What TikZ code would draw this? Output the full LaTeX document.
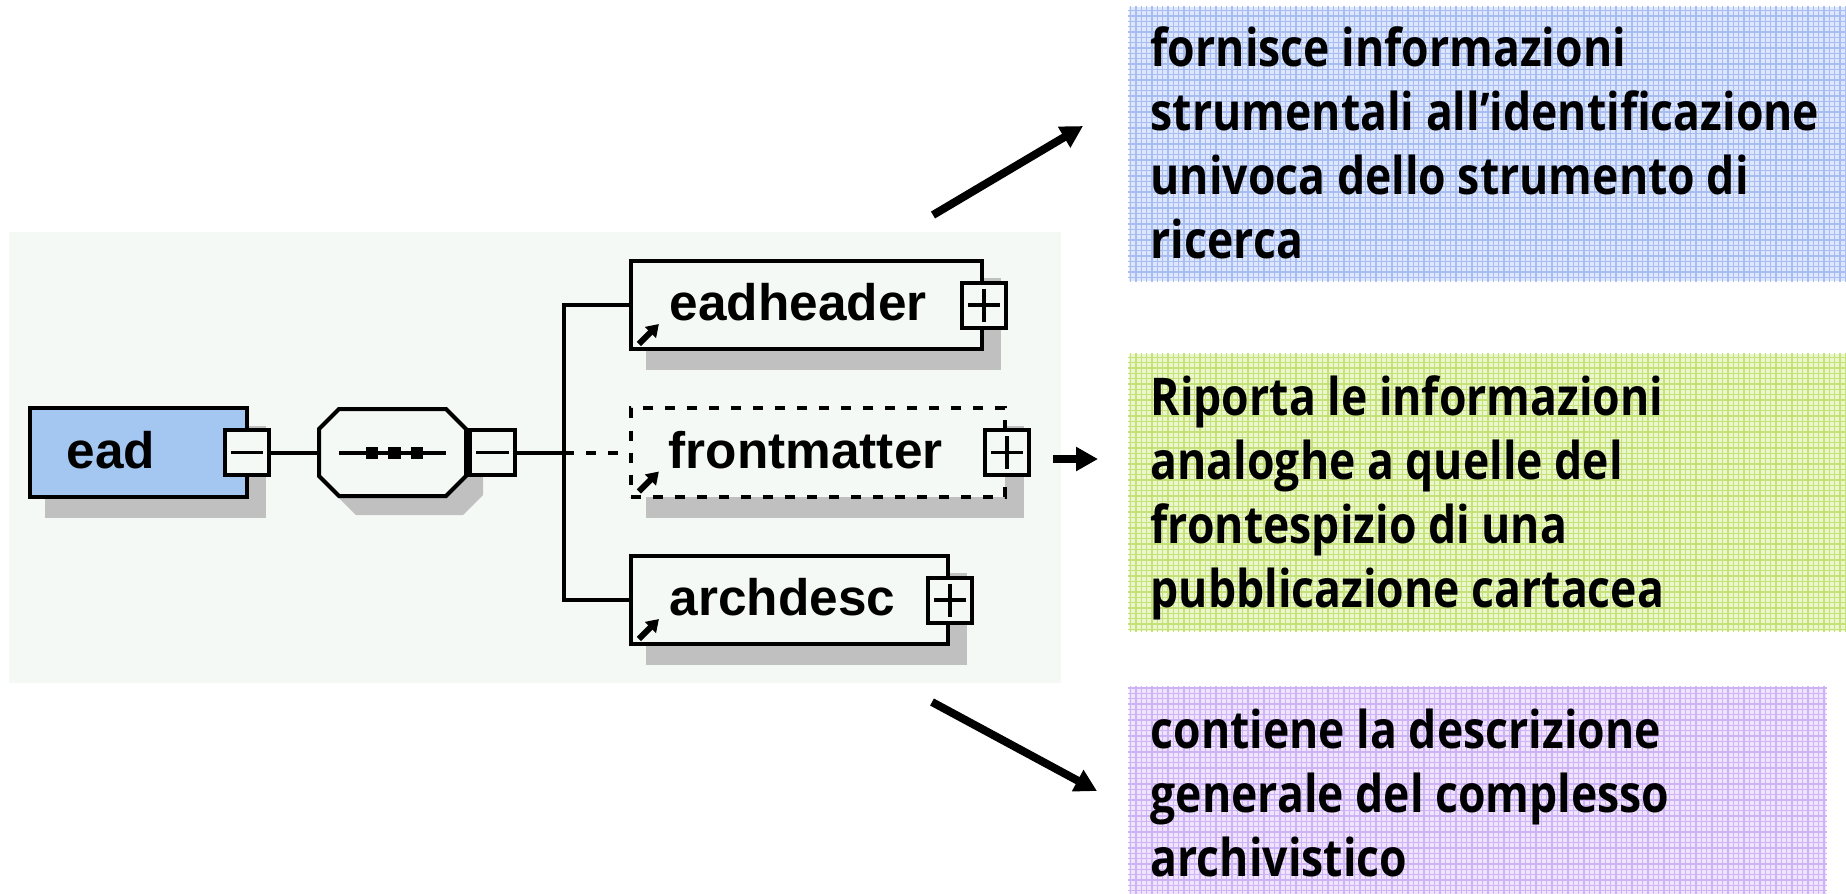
\documentclass[tikz,border=0pt]{standalone}
\usepackage{fontspec}
\setmainfont{Liberation Sans}
\newfontfamily\notefont[FakeStretch=0.856]{Open Sans}
\usetikzlibrary{arrows.meta,shadows}

\definecolor{panel}{RGB}{245,249,245}
\definecolor{shadowgrey}{RGB}{192,192,192}
\definecolor{eadfill}{RGB}{163,199,240}
\definecolor{blueback}{RGB}{222,230,251}
\definecolor{blueline}{RGB}{168,190,242}
\definecolor{greenback}{RGB}{236,246,204}
\definecolor{greenline}{RGB}{196,226,120}
\definecolor{purpleback}{RGB}{240,228,252}
\definecolor{purpleline}{RGB}{206,178,246}

\tikzset{
  schline/.style={line width=0.04cm},
  boxshadow/.style={drop shadow={shadow xshift=0.17cm, shadow yshift=-0.19cm,
      fill=shadowgrey, draw=shadowgrey, solid, line width=0.04cm, opacity=1}},
  elem/.style={draw, schline, fill=panel, minimum height=0.88cm, inner sep=0, boxshadow},
  toggle/.style={draw, schline, solid, fill=panel, minimum width=0.44cm, minimum height=0.45cm, inner sep=0},
  minus/.style={toggle, path picture={
      \draw[line width=0.035cm] ([xshift=0.06cm]path picture bounding box.west)
        -- ([xshift=-0.06cm]path picture bounding box.east);}},
  plus/.style={toggle, path picture={
      \draw[line width=0.035cm] ([xshift=0.06cm]path picture bounding box.west)
        -- ([xshift=-0.06cm]path picture bounding box.east)
        ([yshift=-0.06cm]path picture bounding box.north)
        -- ([yshift=0.06cm]path picture bounding box.south);}},
  elabel/.style={font=\fontsize{14.6pt}{17pt}\selectfont\bfseries, anchor=base west, inner sep=0},
  refarrow/.style={line width=0.06cm, -{Triangle[length=0.12cm,width=0.15cm]}},
  dashedge/.style={dash pattern=on 0.1cm off 0.12cm},
  notebox/.style={anchor=north west, inner sep=0, draw=none},
  notetext/.style={anchor=north west, inner sep=0, align=left,
      font=\notefont\bfseries\fontsize{14.8pt}{18.2pt}\selectfont},
  bigarrow/.style={line width=0.08cm, -{Triangle[length=0.22cm,width=0.23cm]}},
}

\begin{document}
\begin{tikzpicture}[x=0.01cm, y=-0.01cm]
\useasboundingbox (0,0) rectangle (1846,893);

% schema panel
\fill[panel] (9,232) rectangle (1061,683);

% root element
\node[elem, fill=eadfill, minimum width=2.17cm] (ead) at (138.5,452.5) {};
\node[elabel] (eadL) at (66,468) {ead};
\node[minus] (eadT) at (247,452.5) {};

% sequence compositor (octagon with its shadow)
\fill[shadowgrey] (356,428) -- (463,428) -- (483,448) -- (483,495) -- (463,515)
  -- (356,515) -- (336,495) -- (336,448) -- cycle;
\draw[schline, fill=panel] (339,409) -- (446,409) -- (466,429) -- (466,476) -- (446,496)
  -- (339,496) -- (319,476) -- (319,429) -- cycle;
\node[minimum width=1.47cm, minimum height=0.87cm, inner sep=0] (seq) at (392.5,452.5) {};
\draw[schline] (339,452.5) -- (446,452.5);
\foreach \dx in {372,394.5,417}
  \fill (\dx-6.25,446.5) rectangle (\dx+6.25,458.5);
\node[minus] (seqT) at (492.5,452.5) {};

% child elements
\node[elem, minimum width=3.51cm] (hdr) at (806.5,305) {};
\node[elem, dashedge, minimum width=3.74cm] (fm) at (818,452.5) {};
\node[elem, minimum width=3.17cm] (arc) at (789.5,600) {};

\node[plus] (hdrT) at (hdr.east) {};
\node[plus] (fmT) at (fm.east) {};
\node[plus] (arcT) at (arc.east) {};

\node[elabel] (hdrL) at (669,320) {eadheader};
\node[elabel] (fmL) at (668,468) {frontmatter};
\node[elabel] (arcL) at (669,615) {archdesc};

% reference marks
\foreach \n in {hdr,fm,arc}
  \draw[refarrow] ([shift={(10,-7)}]\n.south west) -- ([shift={(30,-27)}]\n.south west);

% connectors
\coordinate (fork) at (564,452.5);
\draw[schline] (eadT.east) -- (seq.west);
\draw[schline] (seqT.east) -- (fork);
\draw[schline] (hdr.west) -| (fork) |- (arc.west);
\draw[schline, dashedge] (fork) -- (fm.west);

% notes
\node[notebox, fill=blueback, minimum width=7.18cm, minimum height=2.74cm] (n1box) at (1128,6) {};
\node[notebox, fill=greenback, minimum width=7.18cm, minimum height=2.77cm] (n2box) at (1128,353) {};
\node[notebox, fill=purpleback, minimum width=6.97cm, minimum height=2.07cm] (n3box) at (1128,686) {};
\draw[blueline, line width=0.012cm, step=0.0533cm] (n1box.north west) grid (n1box.south east);
\draw[greenline, line width=0.012cm, step=0.0533cm] (n2box.north west) grid (n2box.south east);
\draw[purpleline, line width=0.012cm, step=0.0533cm] (n3box.north west) grid (n3box.south east);

\node[notetext] (n1) at (1150,25.5) {fornisce informazioni\\strumentali all’identificazione\\univoca dello strumento di\\ricerca};
\node[notetext] (n2) at (1150,374.5) {Riporta le informazioni\\analoghe a quelle del\\frontespizio di una\\pubblicazione cartacea};
\node[notetext] (n3) at (1150,708.5) {contiene la descrizione\\generale del complesso\\archivistico};

% pointers
\coordinate (p1s) at (933,215);  \coordinate (p1e) at (1083,126);
\coordinate (p2s) at (1053,459); \coordinate (p2e) at (1098,459);
\coordinate (p3s) at (932,702);  \coordinate (p3e) at (1097,791);
\draw[bigarrow] (p1s) -- (p1e);
\draw[bigarrow] (p2s) -- (p2e);
\draw[bigarrow] (p3s) -- (p3e);
\end{tikzpicture}
\end{document}
